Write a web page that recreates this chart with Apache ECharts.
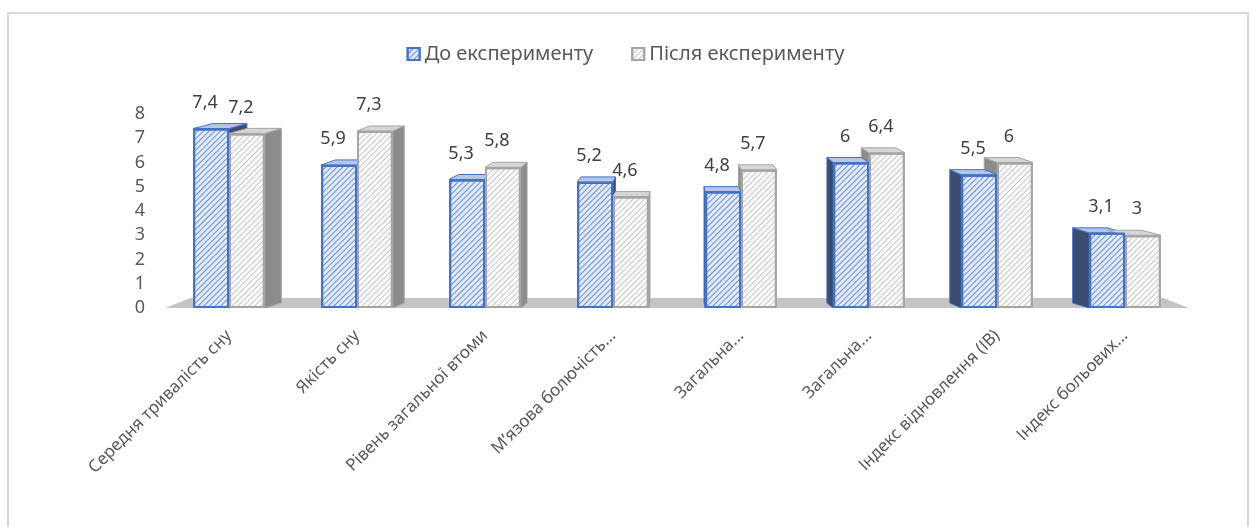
<!DOCTYPE html>
<html>
<head>
<meta charset="utf-8">
<script src="https://cdn.jsdelivr.net/npm/echarts@6/dist/echarts.min.js"></script>
<style>
html,body{margin:0;padding:0;background:#fff;}
#chart{width:1251px;height:527px;}
</style>
</head>
<body>
<div id="chart"></div>
<script>
const categories = [
  'Середня тривалість сну',
  'Якість сну',
  'Рівень загальної втоми',
  'М’язова болючість...',
  'Загальна...',
  'Загальна...',
  'Індекс відновлення (ІВ)',
  'Індекс больових...'
];
const seriesNames = ['До експерименту', 'Після експерименту'];
const beforeValues = [7.4, 5.9, 5.3, 5.2, 4.8, 6, 5.5, 3.1];
const afterValues = [7.2, 7.3, 5.8, 4.6, 5.7, 6.4, 6, 3];
const yTicks = [0, 1, 2, 3, 4, 5, 6, 7, 8];

const FONT = "'Noto Sans', 'Open Sans', sans-serif";
const BAR_FRAC = 0.28;
const DEPTH_Y = 5;
const PERSP = 0.04;

const blueDecal = {symbol: 'rect', symbolSize: 1, dashArrayX: [1, 0], dashArrayY: [1, 3], rotation: -Math.PI / 4, color: '#6a8fd4'};
const grayDecal = {symbol: 'rect', symbolSize: 1, dashArrayX: [1, 0], dashArrayY: [1, 3], rotation: -Math.PI / 4, color: '#c8c8c8'};

const faceData = categories.map((c, i) => [i, beforeValues[i], afterValues[i]]);

function vanishX(api) {
  const a = api.coord([0, 0])[0];
  const b = api.coord([categories.length - 1, 0])[0];
  return (a + b) / 2;
}

function renderFaces(params, api) {
  const i = api.value(0);
  const vb = api.value(1);
  const va = api.value(2);
  const base = api.coord([i, 0]);
  const xs = base[0];
  const y0 = base[1];
  const bw = api.size([1, 0])[0];
  const w = bw * BAR_FRAC;
  const vx = vanishX(api);
  const yB = api.coord([i, vb])[1];
  const yA = api.coord([i, va])[1];
  const bars = [
    {xl: xs - w, xr: xs, yt: yB, side: '#3a4d70', top: '#b4c7e7', stroke: '#4472c4'},
    {xl: xs, xr: xs + w, yt: yA, side: '#8c8c8c', top: '#d6d6d6', stroke: '#a5a5a5'}
  ];
  const sides = [];
  const tops = [];
  bars.forEach(b => {
    const dxL = (vx - b.xl) * PERSP;
    const dxR = (vx - b.xr) * PERSP;
    if (dxR > 0) {
      sides.push({type: 'polygon', shape: {points: [[b.xr, b.yt], [b.xr + dxR, b.yt - DEPTH_Y], [b.xr + dxR, y0 - DEPTH_Y], [b.xr, y0]]},
        style: {fill: b.side, stroke: b.stroke, lineWidth: 1}});
    }
    if (dxL < 0) {
      sides.push({type: 'polygon', shape: {points: [[b.xl, b.yt], [b.xl + dxL, b.yt - DEPTH_Y], [b.xl + dxL, y0 - DEPTH_Y], [b.xl, y0]]},
        style: {fill: b.side, stroke: b.stroke, lineWidth: 1}});
    }
    tops.push({type: 'polygon', shape: {points: [[b.xl, b.yt], [b.xl + dxL, b.yt - DEPTH_Y], [b.xr + dxR, b.yt - DEPTH_Y], [b.xr, b.yt]]},
      style: {fill: b.top, stroke: b.stroke, lineWidth: 1}});
  });
  return {type: 'group', children: sides.concat(tops)};
}

function renderFloor(params, api) {
  const n = categories.length;
  const bw = api.size([1, 0])[0];
  const left = api.coord([0, 0])[0] - bw / 2;
  const right = api.coord([n - 1, 0])[0] + bw / 2;
  const y0 = api.coord([0, 0])[1];
  const vx = (left + right) / 2;
  const f = 0.05;
  const d = 10;
  return {type: 'polygon', shape: {points: [
    [left, y0], [left + (vx - left) * f, y0 - d], [right + (vx - right) * f, y0 - d], [right, y0]
  ]}, style: {fill: '#c4c4c4'}};
}

const labelFmt = p => String(p.value).replace('.', ',');

const chart = echarts.init(document.getElementById('chart'), null, {renderer: 'canvas'});
chart.setOption({
  animation: false,
  backgroundColor: '#ffffff',
  textStyle: {fontFamily: FONT},
  graphic: [{
    type: 'rect', silent: true, z: -10,
    shape: {x: 8, y: 13, width: 1240, height: 540},
    style: {fill: 'none', stroke: '#d9d9d9', lineWidth: 2}
  }],
  legend: {
    top: 39,
    left: 'center',
    itemGap: 38,
    itemWidth: 12,
    itemHeight: 12,
    icon: 'rect',
    textStyle: {fontSize: 20, color: '#595959', fontFamily: FONT},
    data: seriesNames
  },
  grid: {left: 165, right: 62, top: 114, bottom: 219, containLabel: false},
  xAxis: {
    type: 'category',
    data: categories,
    axisLine: {show: false},
    axisTick: {show: false},
    axisLabel: {rotate: 45, margin: 25, fontSize: 17, color: '#595959', fontFamily: FONT, interval: 0}
  },
  yAxis: {
    type: 'value',
    min: 0, max: 8, interval: 1,
    axisLine: {show: false},
    axisTick: {show: false},
    splitLine: {show: false},
    axisLabel: {margin: 20, fontSize: 18, color: '#595959', fontFamily: FONT,
      formatter: v => yTicks.includes(v) ? String(v) : ''}
  },
  series: [
    {
      type: 'custom', name: 'floor', z: 0, silent: true,
      renderItem: renderFloor, data: [[0, 0]], encode: {x: 0, y: 1}, tooltip: {show: false}
    },
    {
      type: 'custom', name: 'faces', z: 1, silent: true,
      renderItem: renderFaces, data: faceData, encode: {x: 0, y: [1, 2]}
    },
    {
      name: seriesNames[0], type: 'bar', z: 3,
      data: beforeValues,
      barWidth: (BAR_FRAC * 100) + '%', barGap: '0%',
      itemStyle: {color: '#e2eaf7', borderColor: '#4472c4', borderWidth: 2, decal: blueDecal},
      label: {show: true, position: 'top', distance: 17, offset: [-6, 0], fontSize: 18, color: '#404040', fontFamily: FONT, formatter: labelFmt}
    },
    {
      name: seriesNames[1], type: 'bar', z: 3,
      data: afterValues,
      barWidth: (BAR_FRAC * 100) + '%', barGap: '0%',
      itemStyle: {color: '#fafafa', borderColor: '#a5a5a5', borderWidth: 2, decal: grayDecal},
      label: {show: true, position: 'top', distance: 17, offset: [-6, 0], fontSize: 18, color: '#404040', fontFamily: FONT, formatter: labelFmt}
    }
  ]
});
</script>
</body>
</html>
